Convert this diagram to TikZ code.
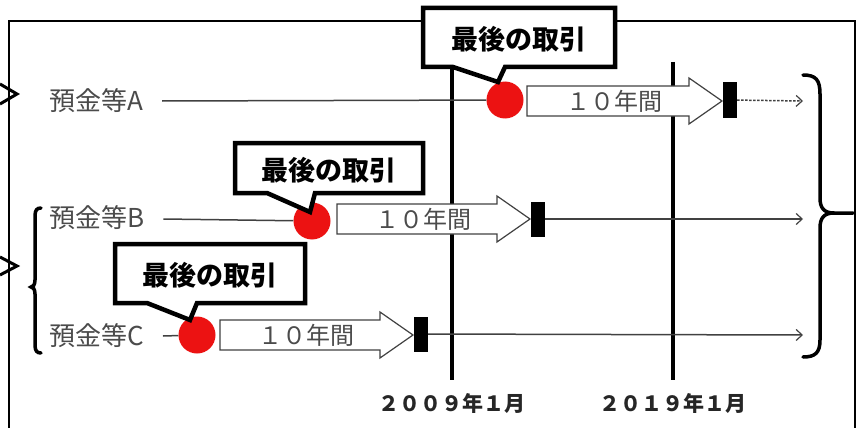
\documentclass[tikz,border=0pt]{standalone}
\usepackage{fontspec}
\newfontfamily\jp{Noto Sans CJK JP}
\usetikzlibrary{arrows.meta}
\definecolor{dotred}{RGB}{236,18,18}
\definecolor{txtgray}{RGB}{75,75,75}
\definecolor{lngray}{RGB}{65,65,65}
\newcommand\blockarrow[4]{%
  \draw[blockarr] (#2,#4-15) -- (#3-33,#4-15) -- (#3-33,#4-23) -- (#3,#4)
    -- (#3-33,#4+23) -- (#3-33,#4+15) -- (#2,#4+15) -- cycle;
  \node[arrtext] (#1) at ({(#2+#3-33)/2+6},#4) {１０年間};}
\newcommand\callout[9]{%
  \draw[callbox] (#2,#3) -- (#4,#3) -- (#4,#5) -- (#9,#5) -- (#7,#8) -- (#6,#5) -- (#2,#5) -- cycle;
  \node[calltext] (#1) at ({(#2+#4)/2},{(#3+#5)/2+2}) {最後の取引};}
\begin{document}
\begin{tikzpicture}[x=1pt,y=-1pt,
  rowlabel/.style={font=\jp\fontsize{26}{26}\selectfont, text=txtgray, inner sep=0, anchor=west},
  rowline/.style={draw=lngray, line width=1.5},
  flow/.style={rowline, -{Straight Barb[length=6,width=11,line width=1.2]}},
  dot/.style={circle, fill=dotred, minimum size=37, inner sep=0},
  endbar/.style={fill=black, minimum width=14, minimum height=35, inner sep=0},
  yearaxis/.style={line width=3.5, draw=black},
  blockarr/.style={draw=lngray, fill=white, line width=1.2, line join=miter},
  arrtext/.style={font=\jp\fontsize{24}{24}\selectfont, text=txtgray, inner sep=0},
  callbox/.style={draw=black, fill=white, line width=4.5, line join=miter},
  calltext/.style={font=\jp\bfseries\fontsize{27}{27}\selectfont, inner sep=0},
  yeartext/.style={font=\jp\bfseries\fontsize{21}{21}\selectfont, text=black!85, inner sep=0},
  bracestyle/.style={line width=3.5, draw=black, line cap=round},
  chev/.style={line width=3, draw=black, line join=miter}
]
\useasboundingbox (0,0) rectangle (857,428);
\fill[white] (0,0) rectangle (857,428);
% frame
\draw[line width=2.5] (9,428) -- (9,21) -- (855,21) -- (855,428);
% incoming chevrons
\draw[chev] (0,84) -- (17,94) -- (0,104);
\draw[chev] (0,257) -- (17,266) -- (0,275);
% time axes
\coordinate (v1top) at (452,50); \coordinate (v1bot) at (452,380);
\coordinate (v2top) at (673,62); \coordinate (v2bot) at (673,380);
\draw[yearaxis] (v1top) -- (v1bot);
\draw[yearaxis] (v2top) -- (v2bot);
\node[yeartext] (y1) at (452,403) {２００９年１月};
\node[yeartext] (y2) at (673,403) {２０１９年１月};
% row A
\node[rowlabel] (la) at (49,101) {預金等A};
\node[dot] (da) at (505,100) {};
\draw[rowline] ([xshift=19]la.east |- 0,101) -- (da);
\blockarrow{ta}{527}{722}{101}
\node[endbar] (ra) at (730,100) {};
\coordinate (ea) at (803,101);
\draw[flow, dash pattern=on 2.5pt off 1.5pt] (ra) -- (ea);
% row B
\node[rowlabel] (lb) at (49,218) {預金等B};
\node[dot] (db) at (312,221) {};
\draw[rowline] ([xshift=19]lb.east |- 0,219) -- (db);
\blockarrow{tb}{337}{530}{219}
\node[endbar] (rb) at (538,219) {};
\coordinate (eb) at (803,219);
\draw[flow] (rb) -- (eb);
% row C
\node[rowlabel] (lc) at (49,336) {預金等C};
\node[dot] (dc) at (197,335) {};
\draw[rowline] ([xshift=19]lc.east |- 0,336) -- (dc);
\blockarrow{tc}{220}{413}{335}
\node[endbar] (rc) at (421,334) {};
\coordinate (ec) at (803,335);
\draw[flow] (rc) -- (ec);
% braces
\draw[bracestyle] (803,75) .. controls (816,75) and (820,80) .. (820,94) -- (820,198)
  .. controls (820,208) and (824,213) .. (834,213) -- (853,213);
\draw[bracestyle] (834,213) .. controls (824,213) and (820,218) .. (820,228) -- (820,340)
  .. controls (820,353) and (815,357) .. (803,357);
\draw[bracestyle] (41,208) .. controls (37,208) and (35,210) .. (35,216) -- (35,280)
  .. controls (35,285) and (33,287) .. (31,287)
  .. controls (33,287) and (35,289) .. (35,294) -- (35,345)
  .. controls (35,351) and (37,353) .. (41,353);
% callouts
\callout{ca}{423}{8}{615}{67}{453}{498}{82}{505}
\callout{cb}{235}{143}{423}{193}{267}{310}{212}{315}
\callout{cc}{115}{244}{305}{303}{147}{190}{320}{197}
\end{tikzpicture}
\end{document}
